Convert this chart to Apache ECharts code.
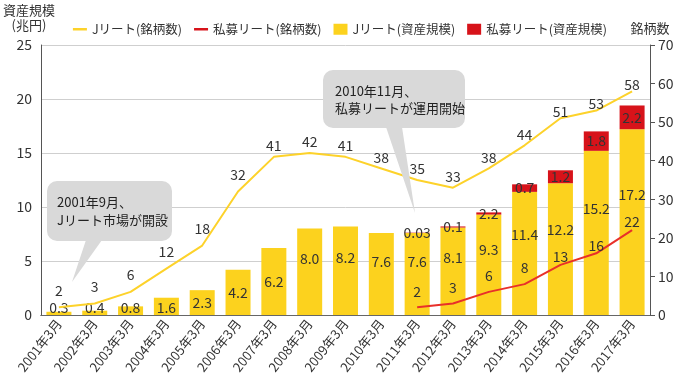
<!DOCTYPE html>
<html><head><meta charset="utf-8">
<script src="https://cdn.jsdelivr.net/npm/echarts@6/dist/echarts.min.js"></script>
<style>html,body{margin:0;padding:0;background:#fff}#c{width:680px;height:380px}</style>
</head><body><div id="c"></div>
<script>
const categories = ['2001年3月','2002年3月','2003年3月','2004年3月','2005年3月','2006年3月','2007年3月','2008年3月','2009年3月','2010年3月','2011年3月','2012年3月','2013年3月','2014年3月','2015年3月','2016年3月','2017年3月'];
const jReitAsset = [0.3,0.4,0.8,1.6,2.3,4.2,6.2,8.0,8.2,7.6,7.6,8.1,9.3,11.4,12.2,15.2,17.2];
const jReitAssetLabels = ['0.3','0.4','0.8','1.6','2.3','4.2','6.2','8.0','8.2','7.6','7.6','8.1','9.3','11.4','12.2','15.2','17.2'];
const privAsset = [null,null,null,null,null,null,null,null,null,null,0.03,0.1,0.2,0.7,1.2,1.8,2.2];
const privAssetLabels = ['','','','','','','','','','','0.03','0.1','2.2','0.7','1.2','1.8','2.2'];
const jReitCount = [2,3,6,12,18,32,41,42,41,38,35,33,38,44,51,53,58];
const privCount = [null,null,null,null,null,null,null,null,null,null,2,3,6,8,13,16,22];
const leftTicks = [0,5,10,15,20,25];
const rightTicks = [0,10,20,30,40,50,60,70];

const FONT = "'Noto Sans CJK JP','Noto Sans',sans-serif";
const YEL = '#FCD21E', RED = '#D7131A', TXT = '#333';
const LINE_ICON = 'path://M0,0H14V2.5H0Z';

function yLabel(v, i) {
  let base = {show: true, color: TXT, fontSize: 14, fontFamily: FONT, formatter: jReitAssetLabels[i]};
  if (v < 2) return Object.assign(base, {position: 'insideBottom', distance: 0});
  if (v < 7) return Object.assign(base, {position: 'inside'});
  return Object.assign(base, {position: ['50%', '35%'], align: 'center', verticalAlign: 'middle'});
}
function jDist(v) { return v <= 32 ? 10 : (v <= 44 ? 4 : 0); }
function pDist(v) { return v < 10 ? 9 : 1; }

const chart = echarts.init(document.getElementById('c'), null, {renderer: 'canvas'});
chart.setOption({
  animation: false,
  textStyle: {fontFamily: FONT},
  legend: {
    top: 18, left: 'center', itemGap: 12, itemWidth: 14, itemHeight: 11,
    textStyle: {fontSize: 12.5, color: TXT, fontFamily: FONT},
    data: [
      {name: 'Jリート(銘柄数)', icon: LINE_ICON},
      {name: '私募リート(銘柄数)', icon: LINE_ICON},
      {name: 'Jリート(資産規模)', icon: 'rect'},
      {name: '私募リート(資産規模)', icon: 'rect'}
    ]
  },
  grid: {left: 40, right: 30, top: 45, bottom: 65},
  xAxis: [{
    type: 'category', data: categories, position: 'bottom',
    axisLine: {lineStyle: {color: '#555', width: 1}},
    axisTick: {show: false},
    axisLabel: {rotate: 52, color: TXT, fontSize: 13, margin: 6, fontFamily: FONT, interval: 0}
  }, {
    type: 'category', data: categories, position: 'top',
    axisLine: {lineStyle: {color: '#666', width: 1}},
    axisTick: {show: false}, axisLabel: {show: false}
  }],
  yAxis: [{
    type: 'value', min: leftTicks[0], max: leftTicks[leftTicks.length-1], interval: 5,
    name: '資産規模\n(兆円)', nameLocation: 'end', nameGap: 12,
    nameTextStyle: {color: TXT, fontSize: 13, lineHeight: 15, align: 'center', padding: [0, 24, 0, 0], fontFamily: FONT},
    axisLine: {show: true, lineStyle: {color: '#555'}},
    axisTick: {show: false},
    axisLabel: {color: TXT, fontSize: 14, margin: 9},
    splitLine: {lineStyle: {color: '#cfcfcf'}}
  }, {
    type: 'value', min: rightTicks[0], max: rightTicks[rightTicks.length-1], interval: 10, position: 'right',
    name: '銘柄数', nameLocation: 'end', nameGap: 10,
    nameTextStyle: {color: TXT, fontSize: 13, align: 'center', fontFamily: FONT},
    axisLine: {show: true, lineStyle: {color: '#555'}},
    axisTick: {show: true, length: 5, lineStyle: {color: '#555'}},
    axisLabel: {color: TXT, fontSize: 14, margin: 8},
    splitLine: {show: false}
  }],
  series: [{
    name: 'Jリート(資産規模)', type: 'bar', stack: 'asset', yAxisIndex: 0, barWidth: 25,
    itemStyle: {color: YEL},
    data: jReitAsset.map((v, i) => ({value: v, label: yLabel(v, i)})),
    z: 2
  }, {
    name: '私募リート(資産規模)', type: 'bar', stack: 'asset', yAxisIndex: 0, barWidth: 25,
    itemStyle: {color: RED},
    label: {show: true, position: 'inside', color: TXT, fontSize: 14, fontFamily: FONT,
      formatter: p => privAssetLabels[p.dataIndex]},
    data: privAsset,
    z: 2
  }, {
    name: 'Jリート(銘柄数)', type: 'line', yAxisIndex: 1, symbol: 'circle', symbolSize: 0.1, showSymbol: true,
    lineStyle: {color: '#FDD22A', width: 2}, itemStyle: {color: '#FDD22A'},
    label: {show: true, position: 'top', color: TXT, fontSize: 14, fontFamily: FONT},
    data: jReitCount.map(v => ({value: v, label: {distance: jDist(v)}})), z: 5
  }, {
    name: '私募リート(銘柄数)', type: 'line', yAxisIndex: 1, symbol: 'circle', symbolSize: 0.1, showSymbol: true,
    lineStyle: {color: '#E8302A', width: 2}, itemStyle: {color: '#D7131A'},
    label: {show: true, position: 'top', color: TXT, fontSize: 14, fontFamily: FONT},
    data: privCount.map(v => v == null ? null : ({value: v, label: {distance: pDist(v)}})), z: 5
  }],
  graphic: [
    {type: 'rect', z: 10, shape: {x: 47, y: 181, width: 125, height: 60, r: 10}, style: {fill: '#d9d9d9'}},
    {type: 'polygon', z: 10, shape: {points: [[86, 240], [102, 240], [72, 282]]}, style: {fill: '#d9d9d9'}},
    {type: 'text', z: 11, x: 57, y: 211, style: {text: '2001年9月、\nJリート市場が開設', fill: '#222', fontSize: 13, lineHeight: 18, fontFamily: FONT, verticalAlign: 'middle'}},
    {type: 'rect', z: 10, shape: {x: 323, y: 70, width: 142, height: 58, r: 10}, style: {fill: '#d9d9d9'}},
    {type: 'polygon', z: 10, shape: {points: [[386, 127], [402, 127], [415, 213]]}, style: {fill: '#d9d9d9'}},
    {type: 'text', z: 11, x: 335, y: 100, style: {text: '2010年11月、\n私募リートが運用開始', fill: '#222', fontSize: 13, lineHeight: 17, fontFamily: FONT, verticalAlign: 'middle'}}
  ]
});
</script>
</body></html>
